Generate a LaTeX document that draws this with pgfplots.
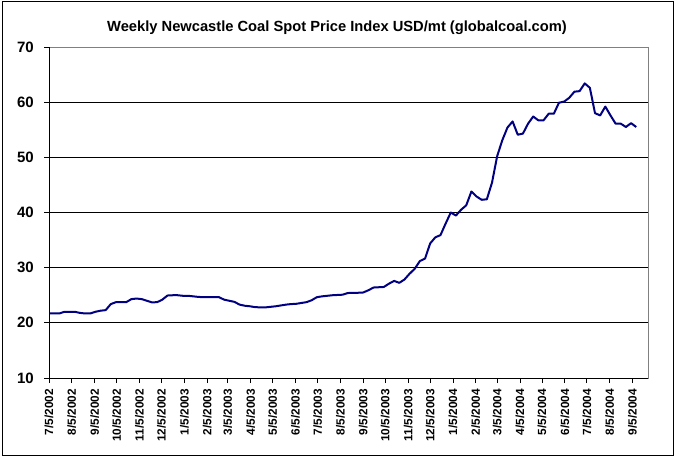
\documentclass[border=0pt]{standalone}
\usepackage{fontspec}
\setmainfont{Liberation Sans}
\usepackage{pgfplots}
\pgfplotsset{compat=1.18}
\definecolor{navyline}{RGB}{0,0,128}
\definecolor{framegray}{RGB}{128,128,128}
\pgfplotstableread{
day price
0 21.7
7 21.7
14 21.7
21 22.0
28 22.0
35 22.0
42 21.8
49 21.7
56 21.7
63 22.0
70 22.2
77 22.3
84 23.4
91 23.75
98 23.75
105 23.75
112 24.3
119 24.4
126 24.3
133 24.0
140 23.7
147 23.75
154 24.2
161 24.95
168 25.0
175 25.0
182 24.9
189 24.9
196 24.8
203 24.7
210 24.65
217 24.65
224 24.65
231 24.65
238 24.2
245 24.0
252 23.8
259 23.3
266 23.1
273 23.0
280 22.85
287 22.8
294 22.8
301 22.9
308 23.0
315 23.15
322 23.3
329 23.4
336 23.45
343 23.6
350 23.75
357 24.1
364 24.65
371 24.8
378 24.9
385 25.0
392 25.05
399 25.1
406 25.4
413 25.45
420 25.45
427 25.5
434 25.9
441 26.4
448 26.45
455 26.5
462 27.1
469 27.6
476 27.25
483 27.85
490 28.9
497 29.8
504 31.2
511 31.65
518 34.4
525 35.5
532 35.9
539 38.0
546 40.0
553 39.45
560 40.5
567 41.3
574 43.8
581 42.9
588 42.3
595 42.4
602 45.4
609 50.2
616 53.1
623 55.4
630 56.5
637 54.1
644 54.3
651 56.1
658 57.4
665 56.7
672 56.7
679 57.9
686 57.9
693 59.9
700 60.1
707 60.8
714 61.9
721 62.0
728 63.4
735 62.6
742 58.0
749 57.6
756 59.2
763 57.6
770 56.1
777 56.1
784 55.5
791 56.2
798 55.5
}\coaldata
\begin{document}
\begin{tikzpicture}[x=1pt,y=1pt]
\useasboundingbox (0,0) rectangle (675,458);
\draw[black, line width=1pt] (2,2) rectangle (673,456);
\node[font=\fontsize{14.7}{17}\selectfont\bfseries] at (337,430) {Weekly Newcastle Coal Spot Price Index USD/mt (globalcoal.com)};
\begin{axis}[
  at={(49pt,80pt)}, anchor=south west,
  scale only axis, width=599pt, height=331pt,
  xmin=0, xmax=814, ymin=10, ymax=70,
  ytick={10,20,...,70},
  extra y ticks={20,30,40,50,60},
  extra y tick labels={},
  extra y tick style={ymajorgrids=true, major tick length=0pt},
  major grid style={black, line width=0.9pt},
  xtick={0,31,62,92,123,153,184,215,243,274,304,335,365,396,427,457,488,518,549,580,609,640,670,701,731,762,793},
  xticklabels={7/5/2002,8/5/2002,9/5/2002,10/5/2002,11/5/2002,12/5/2002,1/5/2003,2/5/2003,3/5/2003,4/5/2003,5/5/2003,6/5/2003,7/5/2003,8/5/2003,9/5/2003,10/5/2003,11/5/2003,12/5/2003,1/5/2004,2/5/2004,3/5/2004,4/5/2004,5/5/2004,6/5/2004,7/5/2004,8/5/2004,9/5/2004},
  tick align=outside,
  major tick length=5pt,
  xtick pos=bottom, ytick pos=left,
  tick style={black, line width=0.9pt},
  axis line style={framegray, line width=0.9pt},
  /pgf/number format/assume math mode=true,
  yticklabel style={font=\fontsize{15}{17}\selectfont\bfseries, inner sep=0pt, xshift=-10pt},
  xticklabel style={font=\fontsize{11.8}{13}\selectfont\bfseries, rotate=90, anchor=east, inner sep=0pt, xshift=-6pt},
  clip=false,
]
\addplot[navyline, line width=2pt, line join=round] table[x=day, y=price] {\coaldata};
\draw[black, line width=0.9pt] (rel axis cs:0,0) -- (rel axis cs:0,1);
\draw[black, line width=0.9pt] (rel axis cs:0,0) -- (rel axis cs:1,0);
\end{axis}
\end{tikzpicture}
\end{document}
